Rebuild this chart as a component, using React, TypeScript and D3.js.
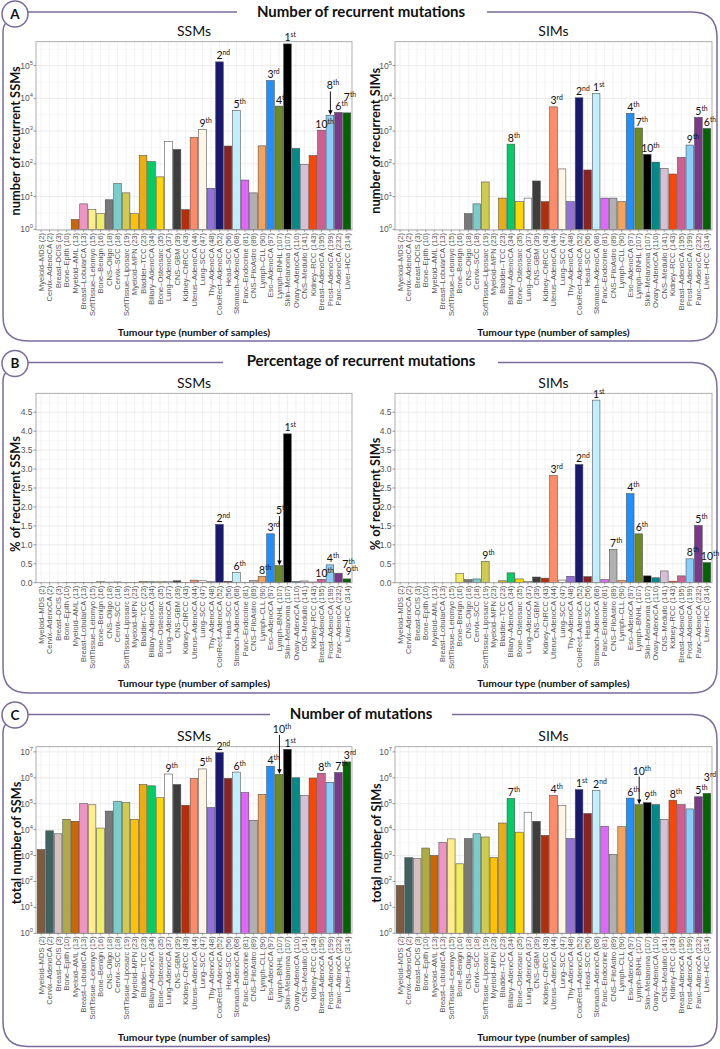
import React from "react";
import * as d3 from "d3";

// ---------------- DATA ----------------
const categories = [
  "Myeloid-MDS", "Cervix-AdenoCA", "Breast-DCIS", "Bone-Epith", "Myeloid-AML", "Breast-LobularCA",
  "SoftTissue-Leiomyo", "Bone-Benign", "CNS-Oligo", "Cervix-SCC", "SoftTissue-Liposarc", "Myeloid-MPN",
  "Bladder-TCC", "Biliary-AdenoCA", "Bone-Osteosarc", "Lung-AdenoCA", "CNS-GBM", "Kidney-ChRCC",
  "Uterus-AdenoCA", "Lung-SCC", "Thy-AdenoCA", "ColoRect-AdenoCA", "Head-SCC", "Stomach-AdenoCA",
  "Panc-Endocrine", "CNS-PiloAstro", "Lymph-CLL", "Eso-AdenoCA", "Lymph-BNHL", "Skin-Melanoma",
  "Ovary-AdenoCA", "CNS-Medullo", "Kidney-RCC", "Breast-AdenoCA", "Prost-AdenoCA", "Panc-AdenoCA", "Liver-HCC",
];
const sampleCounts = [2, 2, 3, 10, 13, 13, 15, 16, 18, 18, 19, 23, 23, 34, 35, 37, 39, 43, 44, 47, 48, 52, 56, 68, 81, 89, 90, 97, 107, 107, 110, 141, 143, 195, 199, 232, 314];

const recurrentSSMs = [0, 0, 0, 1, 2, 6, 4, 3, 8, 25, 13, 3, 180, 117, 40, 475, 275, 4, 640, 1130, 18, 130000, 350, 4200, 32, 13, 355, 35000, 5800, 460000, 295, 96, 180, 1070, 3000, 3700, 3600];
const recurrentSIMs = [0, 0, 0, 0, 0, 0, 0, 1, 3, 6, 28, 0, 9, 400, 7, 9, 30, 7, 5500, 70, 7, 10400, 65, 14000, 9, 9, 7, 3500, 1240, 195, 113, 73, 49, 158, 375, 2620, 1200];

const pctRecurrentSSMs = [0, 0, 0, 0.004, 0.01, 0.006, 0.004, 0.026, 0.015, 0.02, 0.012, 0.012, 0.033, 0.024, 0.024, 0.034, 0.05, 0.005, 0.067, 0.051, 0.025, 1.54, 0.037, 0.27, 0.012, 0.057, 0.17, 1.29, 0.45, 3.93, 0.03, 0.046, 0.018, 0.09, 0.47, 0.25, 0.1];
const pctRecurrentSIMs = [0, 0, 0, 0, 0, 0, 0, 0.24, 0.08, 0.1, 0.56, 0, 0.05, 0.26, 0.1, 0.03, 0.15, 0.12, 2.83, 0.07, 0.17, 3.12, 0.16, 4.82, 0.08, 0.88, 0.06, 2.35, 1.29, 0.18, 0.13, 0.31, 0.04, 0.18, 0.63, 1.51, 0.53];

const totalSSMs = [1700, 9000, 6900, 25000, 21000, 100000, 91000, 11500, 52000, 125000, 110000, 25000, 550000, 490000, 170000, 1400000, 550000, 87000, 950000, 2200000, 71000, 9400000, 950000, 1660000, 270000, 23000, 230000, 2800000, 1350000, 12600000, 1000000, 210000, 980000, 1500000, 670000, 1600000, 4100000];
const totalSIMs = [70, 830, 760, 1950, 1000, 3200, 4400, 480, 4500, 6900, 5200, 830, 18000, 160000, 8000, 47000, 21000, 6000, 210000, 87000, 4500, 350000, 42000, 320000, 13500, 1100, 13000, 165000, 92000, 110000, 92000, 25000, 137000, 92000, 63000, 185000, 250000];

const rankRecurrentSSMs = ["Skin-Melanoma", "ColoRect-AdenoCA", "Eso-AdenoCA", "Lymph-BNHL", "Stomach-AdenoCA", "Panc-AdenoCA", "Liver-HCC", "Prost-AdenoCA", "Lung-SCC", "Breast-AdenoCA"];
const rankRecurrentSIMs = ["Stomach-AdenoCA", "ColoRect-AdenoCA", "Uterus-AdenoCA", "Eso-AdenoCA", "Panc-AdenoCA", "Liver-HCC", "Lymph-BNHL", "Biliary-AdenoCA", "Prost-AdenoCA", "Skin-Melanoma"];
const rankPctSSMs = ["Skin-Melanoma", "ColoRect-AdenoCA", "Eso-AdenoCA", "Prost-AdenoCA", "Lymph-BNHL", "Stomach-AdenoCA", "Panc-AdenoCA", "Lymph-CLL", "Liver-HCC", "Breast-AdenoCA"];
const rankPctSIMs = ["Stomach-AdenoCA", "ColoRect-AdenoCA", "Uterus-AdenoCA", "Eso-AdenoCA", "Panc-AdenoCA", "Lymph-BNHL", "CNS-PiloAstro", "Prost-AdenoCA", "SoftTissue-Liposarc", "Liver-HCC"];
const rankTotalSSMs = ["Skin-Melanoma", "ColoRect-AdenoCA", "Liver-HCC", "Eso-AdenoCA", "Lung-SCC", "Stomach-AdenoCA", "Panc-AdenoCA", "Breast-AdenoCA", "Lung-AdenoCA", "Lymph-BNHL"];
const rankTotalSIMs = ["ColoRect-AdenoCA", "Stomach-AdenoCA", "Liver-HCC", "Uterus-AdenoCA", "Panc-AdenoCA", "Eso-AdenoCA", "Biliary-AdenoCA", "Kidney-RCC", "Skin-Melanoma", "Lymph-BNHL"];

const logTicksA = [0, 1, 2, 3, 4, 5];
const logTicksC = [0, 1, 2, 3, 4, 5, 6, 7];
const pctTicks = [0, 0.5, 1, 1.5, 2, 2.5, 3, 3.5, 4, 4.5];

// ---------------- STYLE ----------------
const palette = [
  "#7f5a3c", "#3f6262", "#d5bfbf", "#ADAC44", "#CD6600", "#EF94C4",
  "#FFEC8B", "#F0EE60", "#787878", "#79CDCD", "#CDCB50", "#FFC100",
  "#EEAD0E", "#00CD66", "#FFD700", "#FFFFFF", "#3D3D3D", "#B32F0B",
  "#FF8C69", "#FDF5E6", "#9370DB", "#191970", "#8B2323", "#BFEFFF",
  "#E066FF", "#B0B0B0", "#F4A35D", "#1E90FF", "#698B22", "#000000",
  "#008B8B", "#D8BFD8", "#FF4500", "#CD6090", "#87CEFA", "#7A378B", "#006400",
];
const FRAME = "#7a6b9c";
const TITLE_FONT = "Lato, 'Open Sans', sans-serif";
const TICK_FONT = "'Liberation Sans', Arial, sans-serif";
const TICK_COL = "#555";

type Tweak = { dx?: number; dy?: number; arrow?: boolean };

type PanelCfg = {
  values: number[];
  ranks: string[];
  tweaks: Record<number, Tweak>;
  x0: number; x1: number; yTop: number; yBot: number;
  log: boolean;
  domain: [number, number];
  ticks: number[];
  subtitle: string; subtitleY: number;
  yTitle: string; yTitleX: number; yTitleShift: number;
  xTitleY: number;
};

function suffix(n: number) {
  return n === 1 ? "st" : n === 2 ? "nd" : n === 3 ? "rd" : "th";
}

function Panel({ cfg, id }: { cfg: PanelCfg; id: string }) {
  const x = d3.scaleBand<string>().domain(categories).range([cfg.x0, cfg.x1]).paddingInner(0.1).paddingOuter(0.15);
  const bw = x.bandwidth();
  const y: any = cfg.log
    ? d3.scaleLog().domain(cfg.domain).range([cfg.yBot, cfg.yTop])
    : d3.scaleLinear().domain(cfg.domain).range([cfg.yBot, cfg.yTop]);
  const base = cfg.log ? y(1) : y(0);

  const majors: number[] = cfg.log ? cfg.ticks.map((k) => Math.pow(10, k)) : cfg.ticks;
  const minors: number[] = cfg.log
    ? cfg.ticks.map((k) => Math.pow(10, k + 0.5)).filter((v) => y(v) > cfg.yTop)
    : cfg.ticks.map((t) => t + 0.25).filter((v) => y(v) > cfg.yTop);

  const cx = (c: string) => (x(c) as number) + bw / 2;
  const plotMidY = (cfg.yTop + cfg.yBot) / 2;
  const plotMidX = (cfg.x0 + cfg.x1) / 2;
  const labelFs = 10.5;
  const digitW = 0.58 * labelFs;

  return (
    <g>
      <text x={plotMidX} y={cfg.subtitleY} textAnchor="middle" fontFamily={TITLE_FONT} fontSize={14} fill="#111">
        {cfg.subtitle}
      </text>
      <rect x={cfg.x0} y={cfg.yTop} width={cfg.x1 - cfg.x0} height={cfg.yBot - cfg.yTop} fill="#fff" />
      {minors.map((v, i) => (
        <line key={"mn" + i} x1={cfg.x0} x2={cfg.x1} y1={y(v)} y2={y(v)} stroke="#f1f1f1" strokeWidth={0.5} />
      ))}
      {majors.map((v, i) => (
        <line key={"mj" + i} x1={cfg.x0} x2={cfg.x1} y1={y(v)} y2={y(v)} stroke="#e4e4e4" strokeWidth={0.7} />
      ))}
      {categories.map((c) => (
        <line key={"vg" + c} x1={cx(c)} x2={cx(c)} y1={cfg.yTop} y2={cfg.yBot} stroke="#e8e8e8" strokeWidth={0.6} />
      ))}
      {categories.map((c, i) => {
        const v = cfg.values[i];
        if (!(v > 0)) return null;
        const top = y(v);
        return (
          <rect key={"b" + c} x={x(c)} y={top} width={bw} height={Math.max(0, base - top)}
            fill={palette[i]} stroke="#4a4a4a" strokeWidth={0.55} />
        );
      })}
      <rect x={cfg.x0} y={cfg.yTop} width={cfg.x1 - cfg.x0} height={cfg.yBot - cfg.yTop} fill="none" stroke="#9a9a9a" strokeWidth={0.8} />
      {/* y ticks */}
      {majors.map((v, i) => (
        <g key={"yt" + i}>
          <line x1={cfg.x0 - 2.5} x2={cfg.x0} y1={y(v)} y2={y(v)} stroke={TICK_COL} strokeWidth={0.6} />
          {cfg.log ? (
            <text x={cfg.x0 - 3} y={y(v) + 3} textAnchor="end" fontFamily={TICK_FONT} fontSize={8.5} fill={TICK_COL}>
              <tspan>10</tspan>
              <tspan dy={-4} fontSize={5.8}>{cfg.ticks[i]}</tspan>
            </text>
          ) : (
            <text x={cfg.x0 - 3.5} y={y(v) + 3} textAnchor="end" fontFamily={TICK_FONT} fontSize={8.5} fill={TICK_COL}>
              {d3.format(".1f")(v)}
            </text>
          )}
        </g>
      ))}
      {/* x ticks and labels */}
      {categories.map((c, i) => (
        <g key={"xt" + c}>
          <line x1={cx(c)} x2={cx(c)} y1={cfg.yBot} y2={cfg.yBot + 2} stroke={TICK_COL} strokeWidth={0.5} />
          <text transform={`translate(${cx(c) + 2.6},${cfg.yBot + 3}) rotate(-90)`} textAnchor="end"
            fontFamily={TICK_FONT} fontSize={7.5} fill={TICK_COL}>
            {`${c.replace("-", "–")} (${sampleCounts[i]})`}
          </text>
        </g>
      ))}
      {/* axis titles */}
      <text transform={`translate(${cfg.yTitleX},${plotMidY + cfg.yTitleShift}) rotate(-90)`} textAnchor="middle"
        fontFamily={TITLE_FONT} fontWeight={700} fontSize={12.8} fill="#111">
        {cfg.yTitle}
      </text>
      <text x={plotMidX} y={cfg.xTitleY} textAnchor="middle" fontFamily={TITLE_FONT} fontWeight={700} fontSize={10.3} fill="#111">
        Tumour type (number of samples)
      </text>
      {/* rank labels */}
      {cfg.ranks.map((name, r) => {
        const i = categories.indexOf(name);
        const v = cfg.values[i];
        const top = y(v);
        const tw = cfg.tweaks[r + 1] || {};
        const baseline = top - 2.5 + (tw.dy || 0);
        const digits = String(r + 1);
        const sx = cx(name) - (digits.length * digitW) / 2 + (tw.dx || 0);
        return (
          <g key={"rk" + r}>
            {tw.arrow && (
              <line x1={cx(name) + 0.5} x2={cx(name) + 0.5} y1={baseline + 2} y2={top - 1.2} stroke="#000" strokeWidth={0.9}
                markerEnd={`url(#arrow-${id})`} />
            )}
            <text x={sx} y={baseline} fontFamily={TITLE_FONT} fontSize={labelFs} fill="#111">
              <tspan>{digits}</tspan>
              <tspan dy={-4} fontSize={6.8}>{suffix(r + 1)}</tspan>
            </text>
          </g>
        );
      })}
      <defs>
        <marker id={`arrow-${id}`} viewBox="0 0 10 10" refX={9} refY={5} markerWidth={5} markerHeight={5} orient="auto">
          <path d="M0,0 L10,5 L0,10 z" fill="#000" />
        </marker>
      </defs>
    </g>
  );
}

function Frame({ top, circleY, bottom, leftEnd, rightStart, letter, title, titleY }: {
  top: number; circleY: number; bottom: number; leftEnd: number; rightStart: number; letter: string; title: string; titleY: number;
}) {
  const d = `M${rightStart},${top} L692,${top} Q717,${top} 717,${top + 25} L717,${bottom - 25} Q717,${bottom} 692,${bottom} L28,${bottom} Q3,${bottom} 3,${bottom - 25} L3,${circleY + 18} Q3,${circleY + 12} 6,${circleY + 9}`;
  return (
    <g>
      <path d={d} fill="none" stroke={FRAME} strokeWidth={1.5} />
      <line x1={27.5} x2={leftEnd} y1={top} y2={top} stroke={FRAME} strokeWidth={1.5} />
      <circle cx={15} cy={circleY} r={13} fill="#fff" stroke={FRAME} strokeWidth={1.5} />
      <text x={15} y={circleY + 4.8} textAnchor="middle" fontFamily={TITLE_FONT} fontWeight={700} fontSize={13.5} fill="#111">
        {letter}
      </text>
      <text x={361} y={titleY} textAnchor="middle" fontFamily={TITLE_FONT} fontWeight={700} fontSize={15} fill="#111">
        {title}
      </text>
    </g>
  );
}

const LX0 = 36, LX1 = 352, RX0 = 395, RX1 = 712;

export default function App() {
  const A = { yTop: 41.7, yBot: 230, domain: [Math.pow(10, -0.02), Math.pow(10, 5.73)] as [number, number] };
  const B = { yTop: 393.3, yBot: 582.7, domain: [0, 5] as [number, number] };
  const C = { yTop: 746.7, yBot: 933.3, domain: [1, Math.pow(10, 7.2)] as [number, number] };

  const panels: [string, PanelCfg][] = [
    ["a1", { values: recurrentSSMs, ranks: rankRecurrentSSMs, tweaks: { 7: { dy: -9 }, 8: { arrow: true, dy: -23.5 } },
      x0: LX0, x1: LX1, ...A, log: true, ticks: logTicksA, subtitle: "SSMs", subtitleY: 36,
      yTitle: "number of recurrent SSMs", yTitleX: 20, yTitleShift: 5, xTitleY: 335.5 }],
    ["a2", { values: recurrentSIMs, ranks: rankRecurrentSIMs, tweaks: {},
      x0: RX0, x1: RX1, ...A, log: true, ticks: logTicksA, subtitle: "SIMs", subtitleY: 36,
      yTitle: "number of recurrent SIMs", yTitleX: 380, yTitleShift: 5, xTitleY: 335.5 }],
    ["b1", { values: pctRecurrentSSMs, ranks: rankPctSSMs, tweaks: { 5: { arrow: true, dy: -49 }, 7: { dx: 7, dy: -3 }, 9: { dx: 2, dy: -1 } },
      x0: LX0, x1: LX1, ...B, log: false, ticks: pctTicks, subtitle: "SSMs", subtitleY: 388,
      yTitle: "% of recurrent SSMs", yTitleX: 20, yTitleShift: 6, xTitleY: 687 }],
    ["b2", { values: pctRecurrentSIMs, ranks: rankPctSIMs, tweaks: {},
      x0: RX0, x1: RX1, ...B, log: false, ticks: pctTicks, subtitle: "SIMs", subtitleY: 388,
      yTitle: "% of recurrent SIMs", yTitleX: 380, yTitleShift: 6, xTitleY: 687 }],
    ["c1", { values: totalSSMs, ranks: rankTotalSSMs, tweaks: { 10: { arrow: true, dy: -39 } },
      x0: LX0, x1: LX1, ...C, log: true, ticks: logTicksC, subtitle: "SSMs", subtitleY: 741,
      yTitle: "total number of SSMs", yTitleX: 20.5, yTitleShift: 3, xTitleY: 1041 }],
    ["c2", { values: totalSIMs, ranks: rankTotalSIMs, tweaks: { 3: { dy: -10 }, 10: { arrow: true, dy: -27.5 } },
      x0: RX0, x1: RX1, ...C, log: true, ticks: logTicksC, subtitle: "SIMs", subtitleY: 741,
      yTitle: "total number of SIMs", yTitleX: 380.5, yTitleShift: 3, xTitleY: 1041 }],
  ];

  return (
    <svg width={720} height={1049} viewBox="0 0 720 1049"
      style={{ position: "absolute", left: 0, top: 0, background: "#fff", display: "block" }}>
      <rect x={0} y={0} width={720} height={1049} fill="#fff" />
      <Frame top={12} circleY={14} bottom={341} leftEnd={237} rightStart={487} letter="A" title="Number of recurrent mutations" titleY={16.5} />
      <Frame top={362.5} circleY={363.5} bottom={693} leftEnd={223} rightStart={498} letter="B" title="Percentage of recurrent mutations" titleY={366} />
      <Frame top={714.5} circleY={715} bottom={1046.5} leftEnd={270} rightStart={452} letter="C" title="Number of mutations" titleY={718.5} />
      {panels.map(([id, cfg]) => (
        <Panel key={id} id={id} cfg={cfg} />
      ))}
    </svg>
  );
}
